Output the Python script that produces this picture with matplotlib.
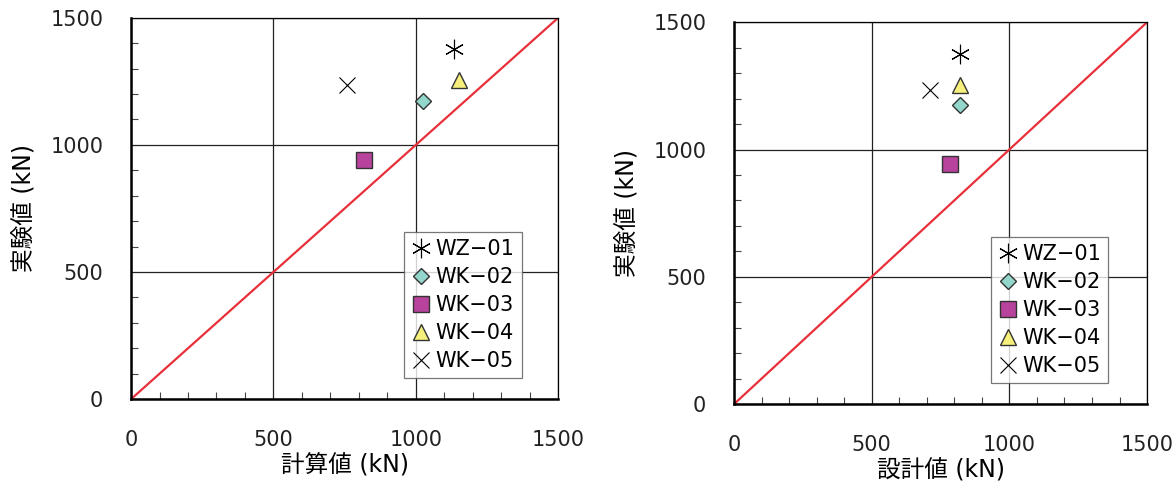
import matplotlib
matplotlib.use('Agg')
import matplotlib.pyplot as plt
from matplotlib.ticker import MultipleLocator

plt.rcParams['font.family'] = ['DejaVu Sans', 'Noto Sans CJK JP']

labels = ['WZ\u221201', 'WK\u221202', 'WK\u221203', 'WK\u221204', 'WK\u221205']
markers = ['*', 'D', 's', '^', 'x']
faces = ['black', '#93d6cc', '#b8439c', '#f6ef7c', 'black']
sizes = [14, 8, 11, 11, 12]

# 実験値 (kN)
measured_l = [1378, 1173, 941, 1256, 1235]
measured_r = [1375, 1174, 942, 1253, 1235]
# 計算値 / 設計値 (kN)
calc = [1133, 1026, 818, 1152, 760]
design = [822, 822, 786, 822, 712]

fig = plt.figure(figsize=(11.72, 4.94), dpi=100)
ax1 = fig.add_axes([0.1118, 0.192, 0.3645, 0.772])
ax2 = fig.add_axes([0.6263, 0.182, 0.3524, 0.773])


def draw(ax, xs, ys, xlabel, legpos):
    ax.plot([0, 1500], [0, 1500], color='#e8303a', lw=1.6, zorder=2)
    for x, y, lab, m, fc, s in zip(xs, ys, labels, markers, faces, sizes):
        if m == '*':
            ax.plot(x, y, marker=(6, 2, 0), ms=s, color='black', mew=0.8,
                    ls='none', label=lab, zorder=3)
        elif m == 'x':
            ax.plot(x, y, marker='x', ms=s, color='black', mew=0.8,
                    ls='none', label=lab, zorder=3)
        else:
            ax.plot(x, y, marker=m, ms=s, mfc=fc, mec='#333333', mew=1.0,
                    ls='none', label=lab, zorder=3)
    ax.set_xlim(0, 1500)
    ax.set_ylim(0, 1500)
    ax.xaxis.set_major_locator(MultipleLocator(500))
    ax.yaxis.set_major_locator(MultipleLocator(500))
    ax.xaxis.set_minor_locator(MultipleLocator(100))
    ax.yaxis.set_minor_locator(MultipleLocator(100))
    ax.tick_params(which='major', direction='in', length=0, labelsize=15,
                   colors='#222222')
    ax.tick_params(axis='x', which='major', pad=22)
    ax.tick_params(axis='y', which='major', pad=20)
    ax.tick_params(which='minor', direction='in', length=5, width=0.8,
                   colors='#444444')
    ax.grid(True, which='major', color='#222222', lw=0.9)
    for side in ['top', 'right']:
        ax.spines[side].set_linewidth(0.9)
    for side in ['left', 'bottom']:
        ax.spines[side].set_linewidth(1.8)
    ax.set_xlabel(xlabel, fontsize=17, labelpad=3)
    ax.set_ylabel('実験値 (kN)', fontsize=17, labelpad=10)
    leg = ax.legend(loc='lower left', bbox_to_anchor=legpos, fontsize=15,
                    frameon=True, fancybox=False, edgecolor='#555555',
                    handletextpad=0.25, handlelength=0.9, borderpad=0.35,
                    labelspacing=0.38, borderaxespad=0, markerscale=1.0)
    leg.get_frame().set_linewidth(0.9)


draw(ax1, calc, measured_l, '計算値 (kN)', (0.64, 0.055))
draw(ax2, design, measured_r, '設計値 (kN)', (0.622, 0.055))

fig.savefig('out.png', dpi=100)
